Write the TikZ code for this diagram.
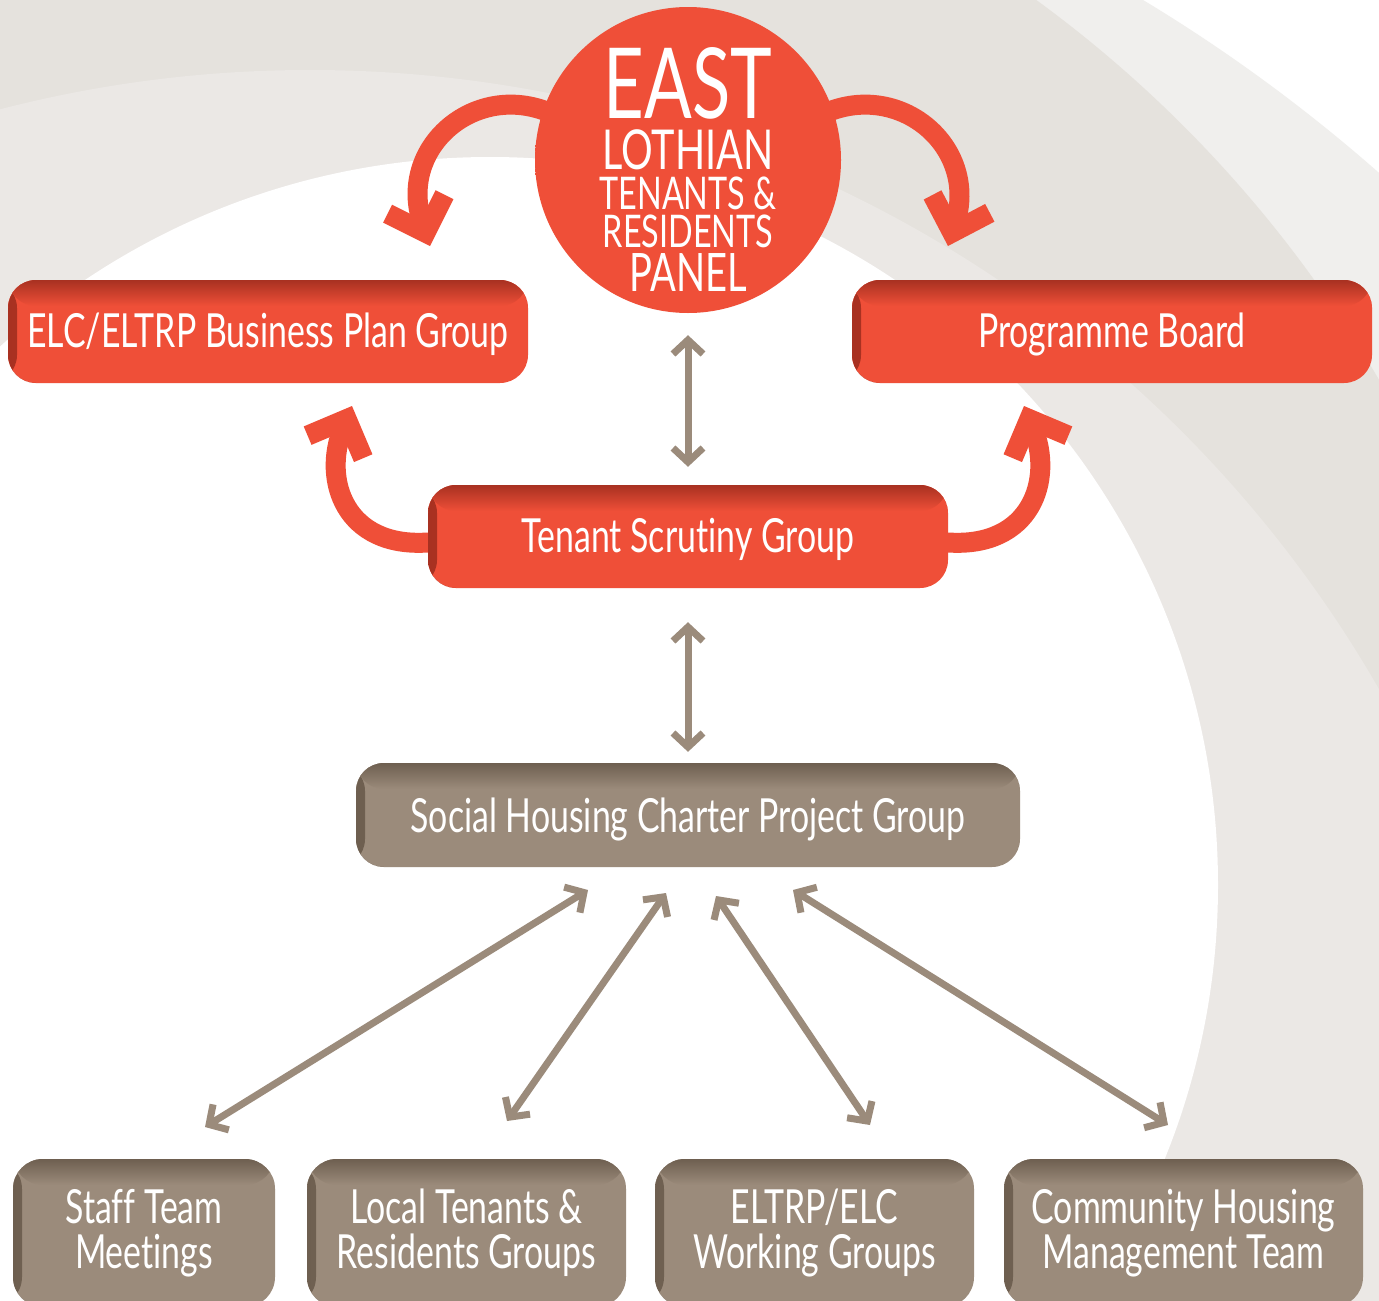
\documentclass[tikz,border=0pt]{standalone}
\usepackage{fontspec}
\setmainfont{Lato}[FakeStretch=0.72,Ligatures=NoCommon]
\usetikzlibrary{arrows.meta}
\definecolor{boxred}{RGB}{239,79,56}
\definecolor{reddark}{RGB}{168,49,33}
\definecolor{boxbrown}{RGB}{155,139,123}
\definecolor{browndark}{RGB}{110,95,80}
\definecolor{bggray}{RGB}{229,226,221}
\definecolor{bglight}{RGB}{240,239,237}
\definecolor{bgring}{RGB}{235,232,229}
\pgfdeclareradialshading{panelshade}{\pgfpoint{4bp}{-4bp}}{color(0bp)=(boxred); color(48bp)=(boxred); color(56bp)=(reddark); color(80bp)=(reddark)}
\pgfdeclarelayer{back}
\pgfdeclarelayer{links}
\pgfsetlayers{back,links,main}

\begin{document}
\begin{tikzpicture}[x=1pt,y=-1pt,
  box/.style n args={2}{rounded corners=28pt, fill=#1, text=white, inner sep=0pt, align=center,
    font=\fontsize{47}{45}\selectfont,
    path picture={
      \shade[left color=#2, right color=#1] (path picture bounding box.north west) rectangle ([xshift=9pt]path picture bounding box.south west);
      \shade[top color=#2, bottom color=#1] (path picture bounding box.north west) rectangle ([yshift=-26pt]path picture bounding box.north east);}},
  redbox/.style={box={boxred}{reddark}, minimum width=520pt, minimum height=103pt, text height=42pt, text depth=10pt},
  brownbox/.style={box={boxbrown}{browndark}},
  panel/.style={circle, minimum size=306pt, inner sep=-100pt, shade, shading=panelshade, text=white, align=center,
    font=\fontsize{45}{0}\selectfont},
  redarrow/.style={draw=boxred, line width=20pt, -{Straight Barb[sharp,length=30pt,width=60pt]}},
  grayarrow/.style={draw=boxbrown, line width=7pt,
    {Straight Barb[sharp,length=14pt,width=30pt]}-{Straight Barb[sharp,length=14pt,width=30pt]}}]

\useasboundingbox (0,0) rectangle (1379,1301);
\begin{pgfonlayer}{back}
\begin{scope}
\clip (0,0) rectangle (1379,1301);
\fill[white] (0,0) rectangle (1379,1301);
\fill[bglight] (300,1400) circle (1634pt);
\fill[bggray] (305,1004) circle (1242pt);
\fill[bgring] (310,1302) circle (1232pt);
\fill[white] (490,885) circle (728pt);
\end{scope}
\end{pgfonlayer}

\node[panel] (panel) at (688,160) {\rule{0pt}{0pt}\\[18pt]\fontsize{98}{0}\selectfont EAST\\[9pt]\fontsize{55}{0}\selectfont LOTHIAN\\[6pt]TENANTS \&\\[4pt]RESIDENTS\\[5pt]\fontsize{53}{0}\selectfont PANEL};
\node[redbox] (bpg) at (268,331.5) {ELC/ELTRP Business Plan Group};
\node[redbox] (board) at (1112,331.5) {Programme Board};
\node[redbox] (tsg) at (688,536.5) {Tenant Scrutiny Group};
\node[brownbox, minimum width=664pt, minimum height=104pt, text height=44pt, text depth=10pt] (shcpg) at (688,815) {Social Housing Charter Project Group};
\node[brownbox, rounded corners=30pt, minimum width=262pt, minimum height=148pt] (staff) at (144,1233) {Staff Team\\Meetings};
\node[brownbox, rounded corners=30pt, minimum width=319pt, minimum height=148pt] (local) at (466.5,1233) {Local Tenants \&\\Residents Groups};
\node[brownbox, rounded corners=30pt, minimum width=319pt, minimum height=148pt] (eltrp) at (814.5,1233) {ELTRP/ELC\\Working Groups};
\node[brownbox, rounded corners=30pt, minimum width=359pt, minimum height=148pt] (chmt) at (1183.5,1233) {Community Housing\\Management Team};

\coordinate (t1) at (430,246);
\coordinate (t2) at (948,246);
\coordinate (t3) at (352,406);
\coordinate (t4) at (1024,406);
\coordinate (u1) at (588,890);
\coordinate (d1) at (205,1127);
\coordinate (u2) at (666,893);
\coordinate (d2) at (507,1121);
\coordinate (u3) at (716,896);
\coordinate (d3) at (870,1125);
\coordinate (u4) at (793,890);
\coordinate (d4) at (1168,1125);

\begin{pgfonlayer}{links}
\draw[redarrow] (panel.center) -- (panel.161) .. controls (470,85) and (398,150) .. (t1);
\draw[redarrow] (panel.center) -- (panel.19) .. controls (906,85) and (978,150) .. (t2);
\draw[redarrow] ([yshift=-6pt]tsg.center) -- ([yshift=-6pt]tsg.west) .. controls (345,548) and (322,480) .. (t3);
\draw[redarrow] ([yshift=-6pt]tsg.center) -- ([yshift=-6pt]tsg.east) .. controls (1031,548) and (1054,480) .. (t4);
\draw[grayarrow, shorten <=22pt, shorten >=18pt] (panel.south) -- (tsg.north);
\draw[grayarrow, shorten <=34pt, shorten >=11pt] (tsg.south) -- (shcpg.north);
\draw[grayarrow] (u1) -- (d1);
\draw[grayarrow] (u2) -- (d2);
\draw[grayarrow] (u3) -- (d3);
\draw[grayarrow] (u4) -- (d4);
\end{pgfonlayer}
\end{tikzpicture}
\end{document}
